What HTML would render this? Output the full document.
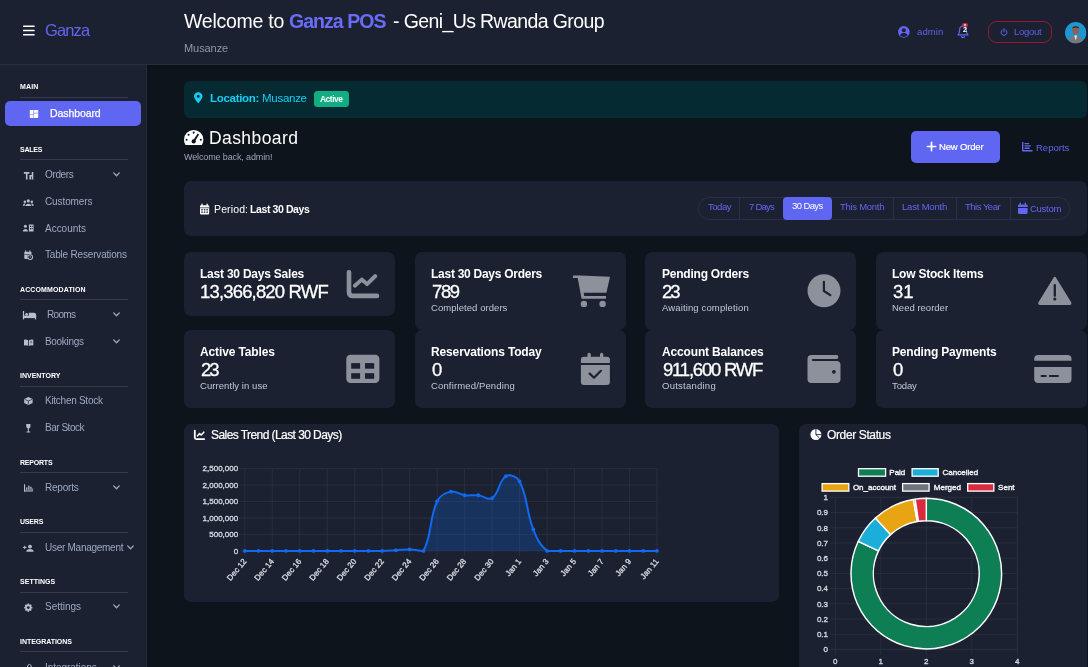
<!DOCTYPE html>
<html lang="en">
<head>
<meta charset="utf-8">
<title>Ganza POS - Dashboard</title>
<style>
*{box-sizing:border-box;margin:0;padding:0}
html,body{width:1088px;height:667px;overflow:hidden;background:#0e141b;font-family:"Liberation Sans",sans-serif;color:#fff}
.a{position:absolute}
.t{position:absolute;white-space:nowrap;line-height:1;will-change:transform}
#header{position:absolute;left:0;top:0;width:1088px;height:65px;background:#1b2131;border-bottom:1px solid #272e40}
#sidebar{position:absolute;left:0;top:65px;width:147px;height:602px;background:#1b2131;border-right:1px solid #232a3b}
#shade{position:absolute;left:147px;top:65px;width:941px;height:5px;background:linear-gradient(#0a1016,#0e141b)}
.hr{position:absolute;left:20px;width:107.5px;height:1px;background:#333b4d}
.card{position:absolute;background:#1b2131;border-radius:7px}
svg{position:absolute;overflow:visible}
</style>
</head>
<body>
<div id="header"></div>
<svg style="left:22.8px;top:25px" width="12" height="11" viewBox="0 0 12 11"><rect x="0" y="0.45" width="11.7" height="1.5" rx=".5" fill="#fff"/><rect x="0" y="4.75" width="11.7" height="1.5" rx=".5" fill="#fff"/><rect x="0" y="9.05" width="11.7" height="1.5" rx=".5" fill="#fff"/></svg>
<svg style="left:898.2px;top:26.3px" width="11.7" height="11.7" viewBox="0 0 12 12"><circle cx="6" cy="6" r="6" fill="#6366f1"/><circle cx="6" cy="4.4" r="2.1" fill="#1b2131"/><path d="M2.2 9.6 C3 7.6 4.4 7.3 6 7.3 S9 7.6 9.8 9.6 C8.8 10.8 7.4 11.3 6 11.3 S3.2 10.8 2.2 9.6Z" fill="#1b2131"/></svg>
<svg style="left:957px;top:25px" width="12" height="14" viewBox="0 0 12 14"><path d="M6 1.2 C3.6 1.2 2.6 3 2.6 5.2 C2.6 7.6 1.9 8.8 1 9.8 L11 9.8 C10.1 8.8 9.4 7.6 9.4 5.2 C9.4 3 8.4 1.2 6 1.2Z" fill="none" stroke="#6366f1" stroke-width="1.2" stroke-linejoin="round"/><path d="M4.6 11.3 C4.8 12.3 5.4 12.7 6 12.7 S7.2 12.3 7.4 11.3" fill="none" stroke="#6366f1" stroke-width="1.2" stroke-linecap="round"/></svg>
<div class="a" style="left:962px;top:22.6px;width:5.6px;height:4.4px;border-radius:2.2px;background:#c52f45"></div><div class="a" style="left:963.6px;top:23.7px;width:2.4px;height:2.2px;border-radius:1.2px;background:#f4d9dd"></div>
<div class="a" style="left:988.2px;top:20.6px;width:63.6px;height:22.8px;border:1.2px solid #961a30;border-radius:8.5px"></div>
<svg style="left:999.7px;top:28px" width="8" height="8" viewBox="0 0 9 9"><path d="M2.6 2.2 A3.3 3.3 0 1 0 6.4 2.2" fill="none" stroke="#6366f1" stroke-width="1.1" stroke-linecap="round"/><path d="M4.5 0.8 V4.3" stroke="#6366f1" stroke-width="1.1" stroke-linecap="round"/></svg>
<svg style="left:1065.1px;top:21.7px" width="21.4" height="21.4" viewBox="0 0 22 22"><defs><clipPath id="av"><circle cx="11" cy="11" r="11"/></clipPath></defs><g clip-path="url(#av)"><rect width="22" height="22" fill="#1c97d4"/><ellipse cx="11" cy="8.6" rx="3.6" ry="4.4" fill="#86625a"/><path d="M7.4 6.8 C7.6 3.6 14.4 3.6 14.6 6.8 C13.6 5.6 8.4 5.6 7.4 6.8Z" fill="#3a2a26"/><path d="M3.5 22 C3.8 15.5 7 14 11 14 S18.2 15.5 18.5 22Z" fill="#77787c"/><path d="M9.6 14 L11 19 L12.4 14Z" fill="#e8edf2"/></g></svg>
<div id="sidebar"></div><div id="shade"></div>
<div class="hr" style="top:97.2px"></div>
<div class="a" style="left:5px;top:101px;width:136px;height:25px;border-radius:5px;background:#5f66f2"></div>
<div class="hr" style="top:159.3px"></div>
<svg style="left:113.4px;top:171.9px" width="7" height="5" viewBox="0 0 7 5"><path d="M0.7 0.9 L3.5 3.8 L6.3 0.9" fill="none" stroke="#9da8c3" stroke-width="1.3" stroke-linecap="round" stroke-linejoin="round"/></svg>
<div class="hr" style="top:299.3px"></div>
<svg style="left:113.4px;top:312.4px" width="7" height="5" viewBox="0 0 7 5"><path d="M0.7 0.9 L3.5 3.8 L6.3 0.9" fill="none" stroke="#9da8c3" stroke-width="1.3" stroke-linecap="round" stroke-linejoin="round"/></svg>
<svg style="left:113.4px;top:339.2px" width="7" height="5" viewBox="0 0 7 5"><path d="M0.7 0.9 L3.5 3.8 L6.3 0.9" fill="none" stroke="#9da8c3" stroke-width="1.3" stroke-linecap="round" stroke-linejoin="round"/></svg>
<div class="hr" style="top:386.1px"></div>
<div class="hr" style="top:472.2px"></div>
<svg style="left:113.4px;top:485.2px" width="7" height="5" viewBox="0 0 7 5"><path d="M0.7 0.9 L3.5 3.8 L6.3 0.9" fill="none" stroke="#9da8c3" stroke-width="1.3" stroke-linecap="round" stroke-linejoin="round"/></svg>
<div class="hr" style="top:532.0px"></div>
<svg style="left:126.8px;top:545.0px" width="7" height="5" viewBox="0 0 7 5"><path d="M0.7 0.9 L3.5 3.8 L6.3 0.9" fill="none" stroke="#9da8c3" stroke-width="1.3" stroke-linecap="round" stroke-linejoin="round"/></svg>
<div class="hr" style="top:592.2px"></div>
<svg style="left:113.4px;top:604.4px" width="7" height="5" viewBox="0 0 7 5"><path d="M0.7 0.9 L3.5 3.8 L6.3 0.9" fill="none" stroke="#9da8c3" stroke-width="1.3" stroke-linecap="round" stroke-linejoin="round"/></svg>
<div class="hr" style="top:651.0px"></div>
<svg style="left:113.4px;top:664.9px" width="7" height="5" viewBox="0 0 7 5"><path d="M0.7 0.9 L3.5 3.8 L6.3 0.9" fill="none" stroke="#9da8c3" stroke-width="1.3" stroke-linecap="round" stroke-linejoin="round"/></svg>
<div class="a" style="left:184px;top:81.3px;width:902.5px;height:36.4px;border-radius:6px;background:#062a32"></div>
<svg style="left:194.3px;top:91.8px" width="8.5" height="11.3" viewBox="0 0 9 11.5"><path d="M4.5 0 C2 0 0 1.9 0 4.3 C0 6.3 2.6 9.6 3.9 11.1 C4.2 11.5 4.8 11.5 5.1 11.1 C6.4 9.6 9 6.3 9 4.3 C9 1.9 7 0 4.5 0Z M4.5 2.7 A1.6 1.6 0 1 1 4.5 5.9 A1.6 1.6 0 1 1 4.5 2.7Z" fill="#14cdf5" fill-rule="evenodd"/></svg>
<div class="a" style="left:314.3px;top:91.4px;width:34.4px;height:15.2px;border-radius:3.5px;background:#12ad82"></div>
<svg style="left:184.2px;top:130px" width="19.4" height="15" viewBox="0 0 19.4 15"><path d="M9.7 0 A9.7 9.7 0 0 0 0 9.7 C0 11.4 0.45 13 1.25 14.4 C1.45 14.8 1.85 15 2.3 15 H17.1 C17.55 15 17.95 14.8 18.15 14.4 C18.95 13 19.4 11.4 19.4 9.7 A9.7 9.7 0 0 0 9.7 0Z" fill="#fff"/><g fill="#0e141b"><circle cx="9.7" cy="2.6" r="1.05"/><circle cx="4.6" cy="4.7" r="1.05"/><circle cx="2.6" cy="9.7" r="1.05"/><circle cx="16.8" cy="9.7" r="1.05"/><circle cx="9.7" cy="11.4" r="2.1"/><path d="M9.1 10.6 L13.7 3.6 L15.1 4.4 L10.9 11.6Z"/></g></svg>
<div class="a" style="left:911px;top:131px;width:88.8px;height:31.8px;border-radius:5px;background:#5f66f2"></div>
<svg style="left:927px;top:141.6px" width="9" height="9" viewBox="0 0 9 9"><path d="M4.5 0.4 V8.6 M0.4 4.5 H8.6" stroke="#fff" stroke-width="1.7" stroke-linecap="round"/></svg>
<svg style="left:1021.8px;top:142px" width="10.5" height="9.5" viewBox="0 0 10.5 9.5"><path d="M0.7 0.4 V8.8 H10.1" fill="none" stroke="#6366f1" stroke-width="1.4" stroke-linecap="round" stroke-linejoin="round"/><path d="M3 1.6 H6.6 M3 3.9 H8.2 M3 6.2 H7.2" stroke="#6366f1" stroke-width="1.4" stroke-linecap="round"/></svg>
<div class="card" style="left:184px;top:180.8px;width:902.6px;height:55px"></div>
<svg style="left:200px;top:204px" width="9.2" height="10.6" viewBox="0 0 9.2 10.6"><path d="M2 0.2 V2 M7.2 0.2 V2" stroke="#fff" stroke-width="1.3" stroke-linecap="round"/><rect x="0" y="1.2" width="9.2" height="9.4" rx="1.1" fill="#fff"/><g fill="#1b2131"><rect x="0" y="3.5" width="9.2" height="0.7"/><rect x="1.3" y="5.1" width="1.5" height="1.3"/><rect x="3.85" y="5.1" width="1.5" height="1.3"/><rect x="6.4" y="5.1" width="1.5" height="1.3"/><rect x="1.3" y="7.5" width="1.5" height="1.3"/><rect x="3.85" y="7.5" width="1.5" height="1.3"/><rect x="6.4" y="7.5" width="1.5" height="1.3"/></g></svg>
<div class="a" style="left:698px;top:197.2px;width:372.4px;height:22.4px;border:1px solid #293047;border-radius:11px"></div>
<div class="a" style="left:739.4px;top:197.7px;width:1px;height:21.4px;background:#293047"></div>
<div class="a" style="left:893.0px;top:197.7px;width:1px;height:21.4px;background:#293047"></div>
<div class="a" style="left:956.3px;top:197.7px;width:1px;height:21.4px;background:#293047"></div>
<div class="a" style="left:1010.0px;top:197.7px;width:1px;height:21.4px;background:#293047"></div>
<div class="a" style="left:783.3px;top:197.2px;width:48.7px;height:22.4px;border-radius:4px;background:#5f66f2"></div>
<svg style="left:1018px;top:202.6px" width="9.6" height="11" viewBox="0 0 9.6 11"><path d="M2.2 0.3 V2.2 M7.4 0.3 V2.2" stroke="#6366f1" stroke-width="1.4" stroke-linecap="round"/><path d="M1.2 1.4 H8.4 A1.2 1.2 0 0 1 9.6 2.6 V3.9 H0 V2.6 A1.2 1.2 0 0 1 1.2 1.4Z M0 4.9 H9.6 V9.8 A1.2 1.2 0 0 1 8.4 11 H1.2 A1.2 1.2 0 0 1 0 9.8Z" fill="#6366f1"/></svg>
<div class="card" style="left:184.0px;top:251.6px;width:210.9px;height:64.6px"></div>
<div class="card" style="left:415.0px;top:251.6px;width:210.9px;height:78.4px"></div>
<div class="card" style="left:645.4px;top:251.6px;width:210.9px;height:78.4px"></div>
<div class="card" style="left:876.0px;top:251.6px;width:210.9px;height:78.4px"></div>
<div class="card" style="left:184.0px;top:330.0px;width:210.9px;height:78.4px"></div>
<div class="card" style="left:415.0px;top:330.0px;width:210.9px;height:78.4px"></div>
<div class="card" style="left:645.4px;top:330.0px;width:210.9px;height:78.4px"></div>
<div class="card" style="left:876.0px;top:330.0px;width:210.9px;height:78.4px"></div>
<svg style="left:0;top:0" width="1088" height="667" viewBox="0 0 1088 667">
<path d="M349 272.2 V291.9 Q349 295.9 353 295.9 H377" fill="none" stroke="#8d919c" stroke-width="4.6" stroke-linecap="round"/>
<path d="M354.8 285.8 L361.7 279.6 L367 284.1 L375.3 276" fill="none" stroke="#8d919c" stroke-width="3.9" stroke-linecap="round" stroke-linejoin="round"/>
<g fill="#8d919c"><rect x="572.8" y="275.4" width="7.6" height="2.7" rx="1.2"/><path d="M577.4 276.6 L579.6 275.6 L610 276.7 L606.4 292.8 L583.6 292.8 L584.2 296 H606 V298.7 H581.6Z"/><circle cx="583.9" cy="303.9" r="3.2"/><circle cx="602.6" cy="303.9" r="3.2"/></g>
<circle cx="824" cy="290.8" r="16.5" fill="#8d919c"/><path d="M823.9 281.8 V291 L830.3 295.2" fill="none" stroke="#1b2131" stroke-width="2.2" stroke-linecap="round" stroke-linejoin="round"/>
<path d="M1053.2 278.2 Q1054.8 275.5 1056.4 278.2 L1071 302 Q1072.4 304.9 1069.4 304.9 H1040.2 Q1037.2 304.9 1038.6 302Z" fill="#8d919c"/><path d="M1054.8 285.2 V295.8" stroke="#1b2131" stroke-width="2.3" stroke-linecap="round"/><circle cx="1054.8" cy="299" r="1.55" fill="#1b2131"/>
<rect x="346.3" y="354.7" width="33.1" height="28.2" rx="4.2" fill="#8d919c"/><g fill="#1b2131"><rect x="351.2" y="363.1" width="8.9" height="5.6"/><rect x="365" y="363.1" width="9.2" height="5.6"/><rect x="351.2" y="373.2" width="8.9" height="5.6"/><rect x="365" y="373.2" width="9.2" height="5.6"/></g>
<g fill="#8d919c"><rect x="587.5" y="352.8" width="3.3" height="6" rx="1.6"/><rect x="600" y="352.8" width="3.3" height="6" rx="1.6"/><path d="M583.9 356.8 H606.9 Q609.9 356.8 609.9 359.8 V362.9 H580.9 V359.8 Q580.9 356.8 583.9 356.8Z"/><path d="M580.9 365.1 H609.9 V381.9 Q609.9 384.9 606.9 384.9 H583.9 Q580.9 384.9 580.9 381.9Z"/></g><path d="M589.7 373.6 L594 377.7 L600.9 370.8" fill="none" stroke="#1b2131" stroke-width="2.2" stroke-linecap="round" stroke-linejoin="round"/>
<path d="M811.5 354.9 H836.4 Q838.4 354.9 838.4 356.9 Q838.4 358.9 836.4 358.9 H813 Q811.8 358.9 811.8 360 Q811.8 360.9 813 360.9 H836.5 Q840.5 360.9 840.5 364.9 V378.9 Q840.5 382.9 836.5 382.9 H811.5 Q807.5 382.9 807.5 378.9 V358.9 Q807.5 354.9 811.5 354.9Z" fill="#8d919c"/><circle cx="833.9" cy="371.8" r="1.9" fill="#1b2131"/>
<path d="M1038.2 354.9 H1067.5 Q1071.5 354.9 1071.5 358.9 V360.8 H1034.2 V358.9 Q1034.2 354.9 1038.2 354.9Z M1034.2 367.1 H1071.5 V378.9 Q1071.5 382.9 1067.5 382.9 H1038.2 Q1034.2 382.9 1034.2 378.9Z" fill="#8d919c"/><path d="M1041.6 376 H1045.8 M1049.8 376 H1058" stroke="#1b2131" stroke-width="2" stroke-linecap="round"/>
</svg>
<div class="card" style="left:184px;top:424px;width:595px;height:177.7px"></div>
<svg style="left:194.2px;top:430.2px" width="11" height="10" viewBox="0 0 11 10"><path d="M0.8 0.6 V7.6 Q0.8 9.1 2.3 9.1 H10.2" fill="none" stroke="#fff" stroke-width="1.8" stroke-linecap="round"/><path d="M3.6 5.8 L5.6 3.6 L7.2 5 L9.8 2.2" fill="none" stroke="#fff" stroke-width="1.6" stroke-linecap="round" stroke-linejoin="round"/></svg>
<div class="card" style="left:799.2px;top:424px;width:287.4px;height:260px"></div>
<svg style="left:810.2px;top:429.3px" width="12" height="11.2" viewBox="0 0 12 11.2"><circle cx="5.9" cy="5.6" r="5.5" fill="#fff"/><path d="M5.9 0 V5.6 H11.6 M5.9 5.6 L9.9 9.6" stroke="#1b2131" stroke-width="0.9" fill="none"/></svg>
<svg style="left:0;top:0;will-change:transform" width="1088" height="667" viewBox="0 0 1088 667">
<path d="M239.50 468.60 H657.00 M239.50 485.06 H657.00 M239.50 501.52 H657.00 M239.50 517.98 H657.00 M239.50 534.44 H657.00 M239.50 550.90 H657.00 M244.80 468.60 V556.20 M272.28 468.60 V556.20 M299.76 468.60 V556.20 M327.24 468.60 V556.20 M354.72 468.60 V556.20 M382.20 468.60 V556.20 M409.68 468.60 V556.20 M437.16 468.60 V556.20 M464.64 468.60 V556.20 M492.12 468.60 V556.20 M519.60 468.60 V556.20 M547.08 468.60 V556.20 M574.56 468.60 V556.20 M602.04 468.60 V556.20 M629.52 468.60 V556.20 M657.00 468.60 V556.20" fill="none" stroke="#2e3446" stroke-width="0.7"/>
<path d="M244.80 550.90 C250.30 550.90 253.04 550.90 258.54 550.90 C264.04 550.90 266.78 550.90 272.28 550.90 C277.78 550.90 280.52 550.90 286.02 550.90 C291.52 550.90 294.26 550.90 299.76 550.90 C305.26 550.90 308.00 550.90 313.50 550.90 C319.00 550.90 321.74 550.90 327.24 550.90 C332.74 550.90 335.48 550.90 340.98 550.90 C346.48 550.90 349.22 550.90 354.72 550.90 C360.22 550.90 362.96 550.90 368.46 550.90 C373.96 550.90 376.71 550.90 382.20 550.90 C387.70 550.77 390.45 550.54 395.94 550.24 C401.44 549.95 404.19 549.29 409.68 549.42 C415.19 549.55 421.09 550.90 423.42 550.90 C432.09 535.71 428.87 519.14 437.16 501.26 C439.86 495.44 444.95 492.94 450.90 491.64 C455.94 490.54 459.05 494.53 464.64 495.27 C470.04 495.98 472.95 494.68 478.38 495.27 C483.94 495.86 488.25 500.90 492.12 498.23 C499.25 493.30 498.85 480.54 505.86 476.27 C509.84 473.85 517.10 476.66 519.60 481.50 C528.09 497.95 526.06 511.11 533.34 529.50 C537.05 538.87 539.94 545.34 547.08 550.90 C550.94 550.90 555.32 550.90 560.82 550.90 C566.32 550.90 569.06 550.90 574.56 550.90 C580.06 550.90 582.80 550.90 588.30 550.90 C593.80 550.90 596.54 550.90 602.04 550.90 C607.54 550.90 610.28 550.90 615.78 550.90 C621.28 550.90 624.02 550.90 629.52 550.90 C635.02 550.90 637.76 550.90 643.26 550.90 C648.76 550.90 651.50 550.90 657.00 550.90 L657.00 550.90 L244.80 550.90 Z" fill="#1069ee" fill-opacity="0.24"/>
<path d="M244.80 550.90 C250.30 550.90 253.04 550.90 258.54 550.90 C264.04 550.90 266.78 550.90 272.28 550.90 C277.78 550.90 280.52 550.90 286.02 550.90 C291.52 550.90 294.26 550.90 299.76 550.90 C305.26 550.90 308.00 550.90 313.50 550.90 C319.00 550.90 321.74 550.90 327.24 550.90 C332.74 550.90 335.48 550.90 340.98 550.90 C346.48 550.90 349.22 550.90 354.72 550.90 C360.22 550.90 362.96 550.90 368.46 550.90 C373.96 550.90 376.71 550.90 382.20 550.90 C387.70 550.77 390.45 550.54 395.94 550.24 C401.44 549.95 404.19 549.29 409.68 549.42 C415.19 549.55 421.09 550.90 423.42 550.90 C432.09 535.71 428.87 519.14 437.16 501.26 C439.86 495.44 444.95 492.94 450.90 491.64 C455.94 490.54 459.05 494.53 464.64 495.27 C470.04 495.98 472.95 494.68 478.38 495.27 C483.94 495.86 488.25 500.90 492.12 498.23 C499.25 493.30 498.85 480.54 505.86 476.27 C509.84 473.85 517.10 476.66 519.60 481.50 C528.09 497.95 526.06 511.11 533.34 529.50 C537.05 538.87 539.94 545.34 547.08 550.90 C550.94 550.90 555.32 550.90 560.82 550.90 C566.32 550.90 569.06 550.90 574.56 550.90 C580.06 550.90 582.80 550.90 588.30 550.90 C593.80 550.90 596.54 550.90 602.04 550.90 C607.54 550.90 610.28 550.90 615.78 550.90 C621.28 550.90 624.02 550.90 629.52 550.90 C635.02 550.90 637.76 550.90 643.26 550.90 C648.76 550.90 651.50 550.90 657.00 550.90" fill="none" stroke="#1069ee" stroke-width="2" stroke-linejoin="round"/>
<g fill="#1069ee"><circle cx="244.80" cy="550.90" r="1.9"/><circle cx="258.54" cy="550.90" r="1.9"/><circle cx="272.28" cy="550.90" r="1.9"/><circle cx="286.02" cy="550.90" r="1.9"/><circle cx="299.76" cy="550.90" r="1.9"/><circle cx="313.50" cy="550.90" r="1.9"/><circle cx="327.24" cy="550.90" r="1.9"/><circle cx="340.98" cy="550.90" r="1.9"/><circle cx="354.72" cy="550.90" r="1.9"/><circle cx="368.46" cy="550.90" r="1.9"/><circle cx="382.20" cy="550.90" r="1.9"/><circle cx="395.94" cy="550.24" r="1.9"/><circle cx="409.68" cy="549.42" r="1.9"/><circle cx="423.42" cy="550.90" r="1.9"/><circle cx="437.16" cy="501.26" r="1.9"/><circle cx="450.90" cy="491.64" r="1.9"/><circle cx="464.64" cy="495.27" r="1.9"/><circle cx="478.38" cy="495.27" r="1.9"/><circle cx="492.12" cy="498.23" r="1.9"/><circle cx="505.86" cy="476.27" r="1.9"/><circle cx="519.60" cy="481.50" r="1.9"/><circle cx="533.34" cy="529.50" r="1.9"/><circle cx="547.08" cy="550.90" r="1.9"/><circle cx="560.82" cy="550.90" r="1.9"/><circle cx="574.56" cy="550.90" r="1.9"/><circle cx="588.30" cy="550.90" r="1.9"/><circle cx="602.04" cy="550.90" r="1.9"/><circle cx="615.78" cy="550.90" r="1.9"/><circle cx="629.52" cy="550.90" r="1.9"/><circle cx="643.26" cy="550.90" r="1.9"/><circle cx="657.00" cy="550.90" r="1.9"/></g>
<g font-family="Liberation Sans, sans-serif" font-size="8" fill="#d2d5dc" stroke="#d2d5dc" stroke-width="0.35" text-anchor="end">
<text x="238.2" y="471.40">2,500,000</text>
<text x="238.2" y="487.86">2,000,000</text>
<text x="238.2" y="504.32">1,500,000</text>
<text x="238.2" y="520.78">1,000,000</text>
<text x="238.2" y="537.24">500,000</text>
<text x="238.2" y="553.70">0</text>
<text transform="translate(246.90 561.70) rotate(-50)" x="0" y="0">Dec 12</text>
<text transform="translate(274.38 561.70) rotate(-50)" x="0" y="0">Dec 14</text>
<text transform="translate(301.86 561.70) rotate(-50)" x="0" y="0">Dec 16</text>
<text transform="translate(329.34 561.70) rotate(-50)" x="0" y="0">Dec 18</text>
<text transform="translate(356.82 561.70) rotate(-50)" x="0" y="0">Dec 20</text>
<text transform="translate(384.30 561.70) rotate(-50)" x="0" y="0">Dec 22</text>
<text transform="translate(411.78 561.70) rotate(-50)" x="0" y="0">Dec 24</text>
<text transform="translate(439.26 561.70) rotate(-50)" x="0" y="0">Dec 26</text>
<text transform="translate(466.74 561.70) rotate(-50)" x="0" y="0">Dec 28</text>
<text transform="translate(494.22 561.70) rotate(-50)" x="0" y="0">Dec 30</text>
<text transform="translate(521.70 561.70) rotate(-50)" x="0" y="0">Jan 1</text>
<text transform="translate(549.18 561.70) rotate(-50)" x="0" y="0">Jan 3</text>
<text transform="translate(576.66 561.70) rotate(-50)" x="0" y="0">Jan 5</text>
<text transform="translate(604.14 561.70) rotate(-50)" x="0" y="0">Jan 7</text>
<text transform="translate(631.62 561.70) rotate(-50)" x="0" y="0">Jan 9</text>
<text transform="translate(659.10 561.70) rotate(-50)" x="0" y="0">Jan 11</text>
</g>
<path d="M830.00 497.30 H1017.30 M830.00 512.52 H1017.30 M830.00 527.74 H1017.30 M830.00 542.96 H1017.30 M830.00 558.18 H1017.30 M830.00 573.40 H1017.30 M830.00 588.62 H1017.30 M830.00 603.84 H1017.30 M830.00 619.06 H1017.30 M830.00 634.28 H1017.30 M830.00 649.50 H1017.30 M835.30 497.30 V654.80 M880.80 497.30 V654.80 M926.30 497.30 V654.80 M971.80 497.30 V654.80 M1017.30 497.30 V654.80" fill="none" stroke="#2e3446" stroke-width="0.7"/>
<g font-family="Liberation Sans, sans-serif" font-size="8" fill="#d2d5dc" stroke="#d2d5dc" stroke-width="0.35" text-anchor="end">
<text x="828" y="500.10">1</text>
<text x="828" y="515.32">0.9</text>
<text x="828" y="530.54">0.8</text>
<text x="828" y="545.76">0.7</text>
<text x="828" y="560.98">0.6</text>
<text x="828" y="576.20">0.5</text>
<text x="828" y="591.42">0.4</text>
<text x="828" y="606.64">0.3</text>
<text x="828" y="621.86">0.2</text>
<text x="828" y="637.08">0.1</text>
<text x="828" y="652.30">0</text>
</g>
<g font-family="Liberation Sans, sans-serif" font-size="8" fill="#d2d5dc" stroke="#d2d5dc" stroke-width="0.35" text-anchor="middle">
<text x="835.30" y="664">0</text>
<text x="880.80" y="664">1</text>
<text x="926.30" y="664">2</text>
<text x="971.80" y="664">3</text>
<text x="1017.30" y="664">4</text>
</g>
<path d="M926.30 498.30 A75.30 75.30 0 1 1 858.28 541.30 L878.51 550.91 A52.90 52.90 0 1 0 926.30 520.70 Z" fill="#0e7e55" stroke="#fff" stroke-width="1.45" stroke-linejoin="round"/>
<path d="M858.28 541.30 A75.30 75.30 0 0 1 875.43 518.08 L890.56 534.60 A52.90 52.90 0 0 0 878.51 550.91 Z" fill="#1aaed8" stroke="#fff" stroke-width="1.45" stroke-linejoin="round"/>
<path d="M875.43 518.08 A75.30 75.30 0 0 1 913.35 499.42 L917.20 521.49 A52.90 52.90 0 0 0 890.56 534.60 Z" fill="#e8a412" stroke="#fff" stroke-width="1.45" stroke-linejoin="round"/>
<path d="M913.35 499.42 A75.30 75.30 0 0 1 915.17 499.13 L918.48 521.28 A52.90 52.90 0 0 0 917.20 521.49 Z" fill="#6c757d" stroke="#fff" stroke-width="1.45" stroke-linejoin="round"/>
<path d="M915.17 499.13 A75.30 75.30 0 0 1 926.30 498.30 L926.30 520.70 A52.90 52.90 0 0 0 918.48 521.28 Z" fill="#d92a40" stroke="#fff" stroke-width="1.45" stroke-linejoin="round"/>
<rect x="858.50" y="468.70" width="27.10" height="7.50" fill="#0e7e55" stroke="#fff" stroke-width="1.3"/>
<text x="889.30" y="475.30" font-family="Liberation Sans, sans-serif" font-size="8" fill="#f1f2f4" stroke="#f1f2f4" stroke-width="0.4">Paid</text>
<rect x="912.10" y="468.70" width="26.10" height="7.50" fill="#1aaed8" stroke="#fff" stroke-width="1.3"/>
<text x="942.50" y="475.30" font-family="Liberation Sans, sans-serif" font-size="8" fill="#f1f2f4" stroke="#f1f2f4" stroke-width="0.4">Cancelled</text>
<rect x="822.10" y="483.60" width="26.70" height="7.50" fill="#e8a412" stroke="#fff" stroke-width="1.3"/>
<text x="852.90" y="490.20" font-family="Liberation Sans, sans-serif" font-size="8" fill="#f1f2f4" stroke="#f1f2f4" stroke-width="0.4">On_account</text>
<rect x="902.60" y="483.60" width="26.50" height="7.50" fill="#6c757d" stroke="#fff" stroke-width="1.3"/>
<text x="933.80" y="490.20" font-family="Liberation Sans, sans-serif" font-size="8" fill="#f1f2f4" stroke="#f1f2f4" stroke-width="0.4">Merged</text>
<rect x="967.70" y="483.60" width="26.10" height="7.50" fill="#d92a40" stroke="#fff" stroke-width="1.3"/>
<text x="998.10" y="490.20" font-family="Liberation Sans, sans-serif" font-size="8" fill="#f1f2f4" stroke="#f1f2f4" stroke-width="0.4">Sent</text>
</svg>
<svg style="left:0;top:0" width="160" height="667" viewBox="0 0 160 667">
<rect x="29.8" y="110" width="8.4" height="8" rx="0.6" fill="#fff"/><path d="M29.8 114.6 H33.6 M33.6 110 V113.2 H38.2 M33.6 113.2 V118" stroke="#6366f1" stroke-width="0.55" fill="none"/>
<g fill="none" stroke="#b4bed2" stroke-width="1.6" stroke-linecap="butt"><path d="M23.9 172.9 H29.4 M26.7 172.9 V179.4"/><path d="M32.5 171.9 V179.4 M29.4 175.7 H32.5 M30.2 175.7 V179.4"/></g>
<g fill="#b4bed2"><circle cx="28.3" cy="200.9" r="1.6"/><circle cx="24.8" cy="201.7" r="1.25"/><circle cx="31.8" cy="201.7" r="1.25"/><path d="M25.4 206 C25.4 202.9 31.2 202.9 31.2 206Z"/><path d="M22.8 205.8 C22.8 203.6 25 203.3 25.6 203.6 C24.9 204.3 24.7 205 24.7 205.8Z"/><path d="M33.8 205.8 C33.8 203.6 31.6 203.3 31 203.6 C31.7 204.3 31.9 205 31.9 205.8Z"/></g>
<g fill="#b4bed2"><circle cx="25.4" cy="226.2" r="1.5"/><path d="M22.8 231.6 C22.8 228 28 228 28 231.6Z"/><path d="M28.9 224.6 H33.6 V231.6 H28.9Z M30 225.8 V227 H31 V225.8Z M31.7 225.8 V227 H32.7 V225.8Z M30 228 V229.2 H31 V228Z M31.7 228 V229.2 H32.7 V228Z" fill-rule="evenodd"/></g>
<g fill="#b4bed2"><path d="M25.7 250.7 V252 M30 250.7 V252" stroke="#b4bed2" stroke-width="1" stroke-linecap="round"/><path d="M25.2 251.7 H30.6 Q31.5 251.7 31.5 252.6 V254 H24.3 V252.6 Q24.3 251.7 25.2 251.7Z"/><path d="M24.3 254.6 H28 Q26.6 256.8 27.9 259 H25.2 Q24.3 259 24.3 258.1Z"/><path d="M30.2 254.2 A2.9 2.9 0 1 0 30.2 260 A2.9 2.9 0 1 0 30.2 254.2Z M30.2 255.2 A1.9 1.9 0 1 1 30.2 259 A1.9 1.9 0 1 1 30.2 255.2Z" fill-rule="evenodd"/><path d="M30.2 255.9 V257.2 L31.1 257.8" stroke="#b4bed2" stroke-width="0.6" fill="none"/></g>
<g fill="#b4bed2"><rect x="22.9" y="311" width="1.2" height="8.4"/><rect x="34.9" y="314.8" width="1.2" height="4.6"/><rect x="22.9" y="315.6" width="13.2" height="2.5"/><circle cx="26.6" cy="314.4" r="1.4"/><path d="M28.8 312.8 H34 Q36.1 312.8 36.1 315 V316.2 H28.8Z"/></g>
<g fill="#b4bed2"><path d="M24 339.8 Q26 339.2 28.2 340.2 V345.8 Q26 344.8 24 345.4Z"/><path d="M33.3 339.8 Q31.3 339.2 29 340.2 V345.8 Q31.3 344.8 33.3 345.4Z"/></g><path d="M30.2 341.4 H32.2 M30.2 342.8 H32.2" stroke="#1b2131" stroke-width="0.5"/>
<path d="M28.4 397.1 L32.6 399 V403 L28.4 404.9 L24.2 403 V399Z" fill="#b4bed2"/><path d="M28.4 401 V404.4 M28.4 401 L24.8 399.4 M28.4 401 L32 399.4" stroke="#1b2131" stroke-width="0.7" fill="none"/>
<path d="M26.3 423.9 H30.4 Q30.9 427.9 28.85 428.4 V431.4 H30.2 V432.4 H26.5 V431.4 H27.85 V428.4 Q25.8 427.9 26.3 423.9Z" fill="#b4bed2"/>
<g fill="#b4bed2"><rect x="24" y="484.3" width="1.1" height="7.2"/><rect x="24" y="490.4" width="9" height="1.1"/><rect x="26.1" y="487.4" width="1.3" height="2.4"/><rect x="28.2" y="485.6" width="1.3" height="4.2"/><rect x="30.3" y="486.8" width="1.3" height="3"/><rect x="32.1" y="488.6" width="1" height="1.2"/></g>
<g fill="#b4bed2"><circle cx="30" cy="546.6" r="1.9"/><path d="M26.3 551.8 C26.3 548.2 33.7 548.2 33.7 551.8Z"/><path d="M22.9 547.4 H26.5 M24.7 545.8 V549" stroke="#b4bed2" stroke-width="1" fill="none"/></g>
<g fill="#b4bed2"><rect x="27.35" y="603.50" width="1.9" height="8.2" rx="0.5" transform="rotate(0 28.30 607.60)"/><rect x="27.35" y="603.50" width="1.9" height="8.2" rx="0.5" transform="rotate(45 28.30 607.60)"/><rect x="27.35" y="603.50" width="1.9" height="8.2" rx="0.5" transform="rotate(90 28.30 607.60)"/><rect x="27.35" y="603.50" width="1.9" height="8.2" rx="0.5" transform="rotate(135 28.30 607.60)"/><circle cx="28.30" cy="607.60" r="3.1"/></g><circle cx="28.30" cy="607.60" r="1.35" fill="#1b2131"/>
<path d="M27.3 667 Q27.6 664.6 29.4 664.4 Q31.2 664.4 31.4 667" fill="none" stroke="#b4bed2" stroke-width="1"/>
</svg>
<div class="t" style="left:44.50px;top:21.83px;font-size:16.5px;color:#6366f1;letter-spacing:-0.859px;">Ganza</div>
<div class="t" style="left:184.40px;top:12.29px;font-size:19.5px;color:#fff;letter-spacing:-0.261px;">Welcome to</div>
<div class="t" style="left:289.20px;top:12.29px;font-size:19.5px;color:#6a6cf6;font-weight:bold;letter-spacing:-0.951px;">Ganza POS</div>
<div class="t" style="left:393.30px;top:12.29px;font-size:19.5px;color:#fff;letter-spacing:-0.610px;">- Geni_Us Rwanda Group</div>
<div class="t" style="left:184.40px;top:42.79px;font-size:11.0px;color:#8e97ab;letter-spacing:-0.069px;">Musanze</div>
<div class="t" style="left:916.50px;top:26.96px;font-size:9.5px;color:#5e61e4;letter-spacing:0.127px;">admin</div>
<div class="t" style="left:963.40px;top:26.07px;font-size:7px;color:#fff;font-weight:bold;">2</div>
<div class="t" style="left:1014.00px;top:26.96px;font-size:9.5px;color:#5e61e4;letter-spacing:-0.283px;">Logout</div>
<div class="t" style="left:20.00px;top:82.97px;font-size:7px;color:#fff;font-weight:bold;letter-spacing:0.156px;">MAIN</div>
<div class="t" style="left:50.00px;top:108.11px;font-size:10.5px;color:#fff;letter-spacing:-0.091px;-webkit-text-stroke:0.25px #fff;">Dashboard</div>
<div class="t" style="left:20.00px;top:145.87px;font-size:7px;color:#fff;font-weight:bold;letter-spacing:-0.242px;">SALES</div>
<div class="t" style="left:44.50px;top:170.44px;font-size:10px;color:#9da8c3;letter-spacing:-0.352px;">Orders</div>
<div class="t" style="left:44.50px;top:196.94px;font-size:10px;color:#9da8c3;letter-spacing:-0.106px;">Customers</div>
<div class="t" style="left:44.50px;top:224.34px;font-size:10px;color:#9da8c3;letter-spacing:-0.019px;">Accounts</div>
<div class="t" style="left:44.50px;top:249.63px;font-size:10px;color:#9da8c3;letter-spacing:-0.185px;">Table Reservations</div>
<div class="t" style="left:20.00px;top:285.97px;font-size:7px;color:#fff;font-weight:bold;letter-spacing:0.127px;">ACCOMMODATION</div>
<div class="t" style="left:47.00px;top:309.94px;font-size:10px;color:#9da8c3;letter-spacing:-0.669px;">Rooms</div>
<div class="t" style="left:44.50px;top:336.74px;font-size:10px;color:#9da8c3;letter-spacing:-0.320px;">Bookings</div>
<div class="t" style="left:20.00px;top:372.07px;font-size:7px;color:#fff;font-weight:bold;letter-spacing:-0.010px;">INVENTORY</div>
<div class="t" style="left:44.50px;top:395.94px;font-size:10px;color:#9da8c3;letter-spacing:-0.270px;">Kitchen Stock</div>
<div class="t" style="left:44.50px;top:422.94px;font-size:10px;color:#9da8c3;letter-spacing:-0.481px;">Bar Stock</div>
<div class="t" style="left:20.00px;top:459.07px;font-size:7px;color:#fff;font-weight:bold;letter-spacing:-0.211px;">REPORTS</div>
<div class="t" style="left:44.50px;top:482.74px;font-size:10px;color:#9da8c3;letter-spacing:-0.219px;">Reports</div>
<div class="t" style="left:20.00px;top:517.77px;font-size:7px;color:#fff;font-weight:bold;letter-spacing:-0.187px;">USERS</div>
<div class="t" style="left:44.50px;top:542.53px;font-size:10px;color:#9da8c3;letter-spacing:-0.270px;">User Management</div>
<div class="t" style="left:20.00px;top:578.27px;font-size:7px;color:#fff;font-weight:bold;letter-spacing:0.038px;">SETTINGS</div>
<div class="t" style="left:44.50px;top:601.93px;font-size:10px;color:#9da8c3;letter-spacing:-0.019px;">Settings</div>
<div class="t" style="left:20.00px;top:638.17px;font-size:7px;color:#fff;font-weight:bold;letter-spacing:-0.046px;">INTEGRATIONS</div>
<div class="t" style="left:44.50px;top:663.43px;font-size:10px;color:#9da8c3;letter-spacing:-0.041px;">Integrations</div>
<div class="t" style="left:210.20px;top:93.47px;font-size:11.5px;color:#14cdf5;font-weight:bold;letter-spacing:-0.302px;">Location:</div>
<div class="t" style="left:261.60px;top:93.47px;font-size:11.5px;color:#14cdf5;letter-spacing:-0.278px;">Musanze</div>
<div class="t" style="left:320.00px;top:95.00px;font-size:8.5px;color:#fff;font-weight:bold;letter-spacing:-0.517px;">Active</div>
<div class="t" style="left:208.50px;top:129.89px;font-size:17.5px;color:#fff;letter-spacing:0.415px;">Dashboard</div>
<div class="t" style="left:184.40px;top:153.18px;font-size:9px;color:#9ca5b8;letter-spacing:-0.125px;">Welcome back, admin!</div>
<div class="t" style="left:939.00px;top:141.66px;font-size:9.5px;color:#fff;letter-spacing:-0.170px;-webkit-text-stroke:0.2px #fff;">New Order</div>
<div class="t" style="left:1035.70px;top:142.86px;font-size:9.5px;color:#6366f1;letter-spacing:0.014px;">Reports</div>
<div class="t" style="left:214.20px;top:204.11px;font-size:10.5px;color:#fff;letter-spacing:0.125px;">Period:</div>
<div class="t" style="left:250.20px;top:204.11px;font-size:10.5px;color:#fff;font-weight:bold;letter-spacing:-0.397px;">Last 30 Days</div>
<div class="t" style="left:707.60px;top:202.36px;font-size:9.5px;color:#6366f1;letter-spacing:-0.475px;">Today</div>
<div class="t" style="left:748.50px;top:202.36px;font-size:9.5px;color:#6366f1;letter-spacing:-0.763px;">7 Days</div>
<div class="t" style="left:792.00px;top:201.36px;font-size:9.5px;color:#fff;letter-spacing:-0.600px;">30 Days</div>
<div class="t" style="left:840.00px;top:202.36px;font-size:9.5px;color:#6366f1;letter-spacing:-0.278px;">This Month</div>
<div class="t" style="left:902.20px;top:202.36px;font-size:9.5px;color:#6366f1;letter-spacing:-0.191px;">Last Month</div>
<div class="t" style="left:965.00px;top:202.36px;font-size:9.5px;color:#6366f1;letter-spacing:-0.502px;">This Year</div>
<div class="t" style="left:1029.50px;top:203.86px;font-size:9.5px;color:#6366f1;letter-spacing:-0.263px;">Custom</div>
<div class="t" style="left:200.40px;top:267.84px;font-size:12px;color:#fff;font-weight:bold;letter-spacing:-0.223px;">Last 30 Days Sales</div>
<div class="t" style="left:200.20px;top:283.24px;font-size:18.5px;color:#fff;letter-spacing:-0.832px;-webkit-text-stroke:0.3px #fff;">13,366,820 RWF</div>
<div class="t" style="left:431.40px;top:267.84px;font-size:12px;color:#fff;font-weight:bold;letter-spacing:-0.266px;">Last 30 Days Orders</div>
<div class="t" style="left:431.70px;top:283.24px;font-size:18.5px;color:#fff;letter-spacing:-1.389px;-webkit-text-stroke:0.3px #fff;">789</div>
<div class="t" style="left:431.40px;top:302.76px;font-size:9.5px;color:#c3c8d3;letter-spacing:0.056px;">Completed orders</div>
<div class="t" style="left:661.80px;top:267.84px;font-size:12px;color:#fff;font-weight:bold;letter-spacing:-0.226px;">Pending Orders</div>
<div class="t" style="left:662.10px;top:283.24px;font-size:18.5px;color:#fff;letter-spacing:-1.989px;-webkit-text-stroke:0.3px #fff;">23</div>
<div class="t" style="left:661.80px;top:302.76px;font-size:9.5px;color:#c3c8d3;letter-spacing:0.131px;">Awaiting completion</div>
<div class="t" style="left:892.40px;top:267.84px;font-size:12px;color:#fff;font-weight:bold;letter-spacing:-0.222px;">Low Stock Items</div>
<div class="t" style="left:892.70px;top:283.24px;font-size:18.5px;color:#fff;-webkit-text-stroke:0.3px #fff;">31</div>
<div class="t" style="left:892.40px;top:302.76px;font-size:9.5px;color:#c3c8d3;letter-spacing:0.008px;">Need reorder</div>
<div class="t" style="left:200.40px;top:346.24px;font-size:12px;color:#fff;font-weight:bold;letter-spacing:-0.125px;">Active Tables</div>
<div class="t" style="left:200.70px;top:360.64px;font-size:18.5px;color:#fff;letter-spacing:-1.989px;-webkit-text-stroke:0.3px #fff;">23</div>
<div class="t" style="left:200.40px;top:381.16px;font-size:9.5px;color:#c3c8d3;letter-spacing:0.064px;">Currently in use</div>
<div class="t" style="left:431.40px;top:346.24px;font-size:12px;color:#fff;font-weight:bold;letter-spacing:-0.140px;">Reservations Today</div>
<div class="t" style="left:431.70px;top:360.64px;font-size:18.5px;color:#fff;-webkit-text-stroke:0.3px #fff;">0</div>
<div class="t" style="left:431.40px;top:381.16px;font-size:9.5px;color:#c3c8d3;letter-spacing:0.147px;">Confirmed/Pending</div>
<div class="t" style="left:661.80px;top:346.24px;font-size:12px;color:#fff;font-weight:bold;letter-spacing:-0.157px;">Account Balances</div>
<div class="t" style="left:662.60px;top:360.64px;font-size:18.5px;color:#fff;letter-spacing:-1.203px;-webkit-text-stroke:0.3px #fff;">911,600 RWF</div>
<div class="t" style="left:661.80px;top:381.16px;font-size:9.5px;color:#c3c8d3;letter-spacing:0.245px;">Outstanding</div>
<div class="t" style="left:892.40px;top:346.24px;font-size:12px;color:#fff;font-weight:bold;letter-spacing:-0.179px;">Pending Payments</div>
<div class="t" style="left:892.70px;top:360.64px;font-size:18.5px;color:#fff;-webkit-text-stroke:0.3px #fff;">0</div>
<div class="t" style="left:892.40px;top:381.16px;font-size:9.5px;color:#c3c8d3;letter-spacing:-0.125px;">Today</div>
<div class="t" style="left:210.90px;top:428.84px;font-size:12px;color:#fff;letter-spacing:-0.569px;-webkit-text-stroke:0.2px #fff;">Sales Trend (Last 30 Days)</div>
<div class="t" style="left:826.80px;top:429.44px;font-size:12px;color:#fff;letter-spacing:-0.375px;-webkit-text-stroke:0.2px #fff;">Order Status</div>

</body>
</html>
